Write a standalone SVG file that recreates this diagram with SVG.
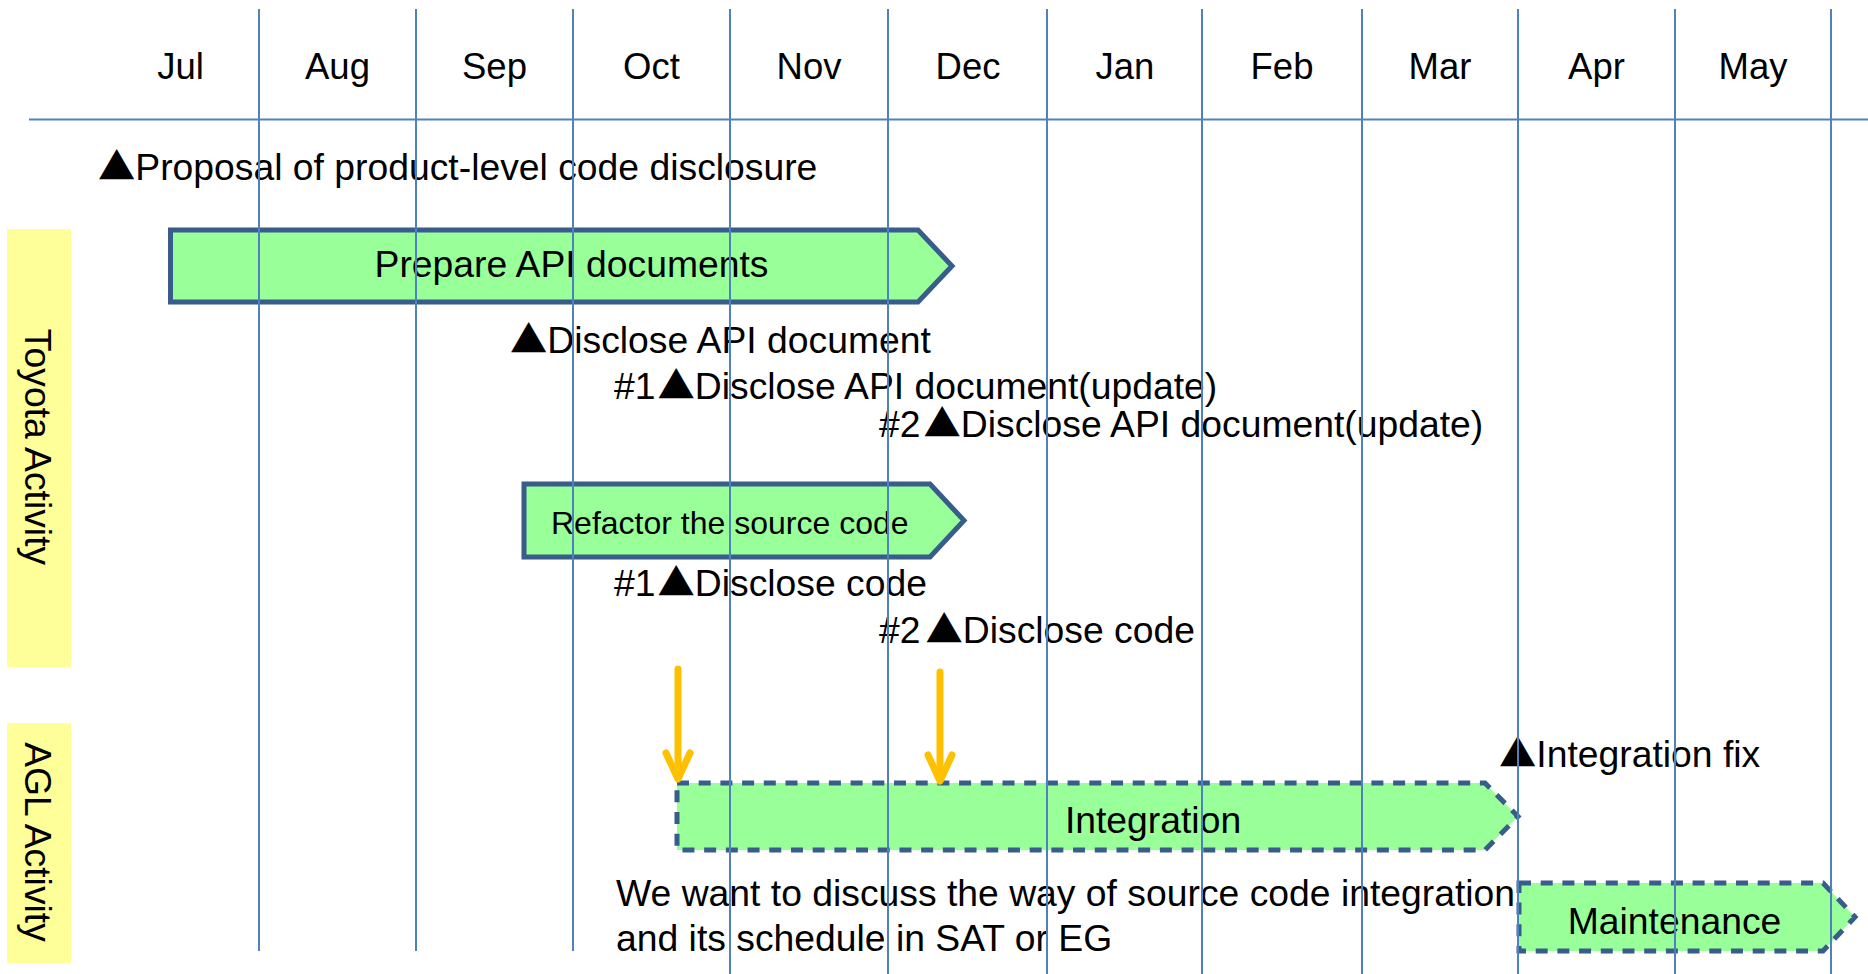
<svg xmlns="http://www.w3.org/2000/svg" width="1868" height="974" viewBox="0 0 1868 974">
<style>
text{font-family:"Liberation Sans",Arial,sans-serif;fill:#000}
.tri{font-family:"Noto Sans CJK JP","Liberation Sans",sans-serif}
.big{font-size:37.3px}
.mon{font-size:36.5px;text-anchor:middle}
.grid{stroke:#4F81BD;stroke-width:2;fill:none}
.bar{fill:#99FF99;stroke:#385D8A;stroke-width:5;stroke-linejoin:miter}
.dash{fill:#99FF99;stroke:#385D8A;stroke-width:5;stroke-dasharray:12 9.7;stroke-linejoin:miter}
.lane{fill:#FFFF99}
.yarrow{stroke:#FFC000;stroke-width:7;fill:none;stroke-linecap:round;stroke-linejoin:round}
</style>
<rect width="1868" height="974" fill="#fff"/>
<g id="lane-toyota">
<rect class="lane" x="7" y="229" width="64" height="438"/>
<text class="big" text-anchor="middle" transform="translate(25,447) rotate(90)">Toyota Activity</text>
</g>
<g id="lane-agl">
<rect class="lane" x="7" y="723" width="64" height="240"/>
<text class="big" text-anchor="middle" transform="translate(25,842) rotate(90)">AGL Activity</text>
</g>
<g id="months">
<text class="mon" x="180.5" y="79">Jul</text>
<text class="mon" x="337.5" y="79">Aug</text>
<text class="mon" x="494.5" y="79">Sep</text>
<text class="mon" x="651.5" y="79">Oct</text>
<text class="mon" x="809" y="79">Nov</text>
<text class="mon" x="968" y="79">Dec</text>
<text class="mon" x="1125" y="79">Jan</text>
<text class="mon" x="1282" y="79">Feb</text>
<text class="mon" x="1440" y="79">Mar</text>
<text class="mon" x="1596.5" y="79">Apr</text>
<text class="mon" x="1753" y="79">May</text>
</g>
<g id="milestone-proposal"><text class="big" x="98" y="180"><tspan class="tri">▲</tspan>Proposal of product-level code disclosure</text></g>
<g id="task-prepare-api">
<path class="bar" d="M170.5,230 H918 L952,266 L918,302 H170.5 Z"/>
<text class="big" x="571.5" y="277" text-anchor="middle">Prepare API documents</text>
</g>
<g id="milestone-api"><text class="big" x="510" y="352.5"><tspan class="tri">▲</tspan>Disclose API document</text></g>
<g id="milestone-api-1"><text class="big" x="614" y="398.5">#1<tspan class="tri" dx="2">▲</tspan>Disclose API document(update)</text></g>
<g id="milestone-api-2"><text class="big" x="879" y="437">#2<tspan class="tri" dx="3">▲</tspan>Disclose API document(update)</text></g>
<g id="task-refactor">
<path class="bar" d="M524,484 H930 L964,520.5 L930,557 H524 Z"/>
<text x="551" y="534" font-size="32">Refactor the source code</text>
</g>
<g id="milestone-code-1"><text class="big" x="614" y="596">#1<tspan class="tri" dx="2">▲</tspan>Disclose code</text></g>
<g id="milestone-code-2"><text class="big" x="879" y="642.5">#2<tspan class="tri" dx="5">▲</tspan>Disclose code</text></g>
<g id="milestone-fix"><text class="big" x="1499" y="766.5"><tspan class="tri">▲</tspan>Integration fix</text></g>
<g id="task-integration">
<path class="dash" d="M677,783 H1485 L1518,816.5 L1485,850 H677 Z"/>
<text class="big" x="1153" y="833" text-anchor="middle">Integration</text>
</g>
<g id="task-maintenance">
<path class="dash" d="M1519,883 H1823 L1855,917 L1823,951 H1519 Z"/>
<text class="big" x="1674.5" y="934" text-anchor="middle">Maintenance</text>
</g>
<g id="note">
<text class="big" x="616" y="905.5">We want to discuss the way of source code integration</text>
<text class="big" x="616" y="951">and its schedule in SAT or EG</text>
</g>
<g id="connectors">
<line class="yarrow" x1="678" y1="669" x2="678" y2="778" stroke-linecap="butt"/>
<polyline class="yarrow" points="666,753 678,779 690,753"/>
<line class="yarrow" x1="940" y1="672" x2="940" y2="780" stroke-linecap="butt"/>
<polyline class="yarrow" points="928,755 940,781 952,755"/>
</g>
<g id="grid">
<line class="grid" x1="29" y1="119.5" x2="1868" y2="119.5"/>
<line class="grid" x1="259" y1="9" x2="259" y2="951"/>
<line class="grid" x1="416" y1="9" x2="416" y2="951"/>
<line class="grid" x1="573" y1="9" x2="573" y2="951"/>
<line class="grid" x1="730" y1="9" x2="730" y2="974"/>
<line class="grid" x1="888" y1="9" x2="888" y2="974"/>
<line class="grid" x1="1047" y1="9" x2="1047" y2="974"/>
<line class="grid" x1="1202" y1="9" x2="1202" y2="974"/>
<line class="grid" x1="1362" y1="9" x2="1362" y2="974"/>
<line class="grid" x1="1518" y1="9" x2="1518" y2="974"/>
<line class="grid" x1="1675" y1="9" x2="1675" y2="974"/>
<line class="grid" x1="1831" y1="9" x2="1831" y2="974"/>
</g>
</svg>
